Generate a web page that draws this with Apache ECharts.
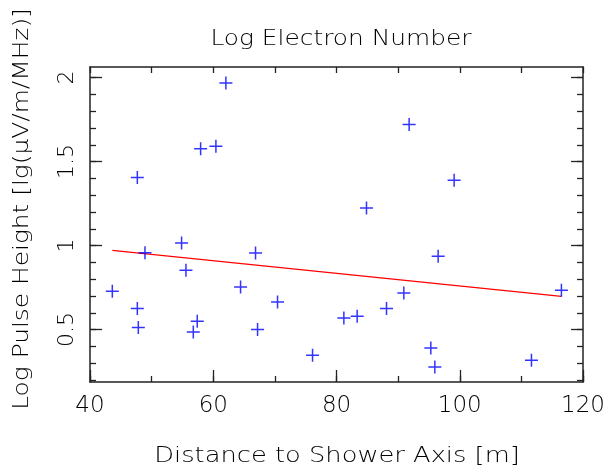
<!DOCTYPE html>
<html><head><meta charset="utf-8">
<script src="https://cdn.jsdelivr.net/npm/echarts@6/dist/echarts.min.js"></script>
<style>html,body{margin:0;padding:0;background:#fff}#c{width:608px;height:471px}</style>
</head><body><div id="c"></div>
<script>
// Data
const distance = [62.05, 57.95, 60.43, 47.68, 54.86, 48.92, 66.86, 55.57, 43.62, 64.43, 70.43, 47.68, 47.84, 57.4, 56.76, 67.19, 76.11,
                  91.78, 99.08, 84.86, 96.49, 90.92, 116.49, 88.11, 81.19, 83.35, 95.3, 95.95, 111.63];
const pulseHeight = [1.968, 1.577, 1.591, 1.405, 1.015, 0.958, 0.956, 0.853, 0.728, 0.754, 0.664, 0.625, 0.512, 0.549, 0.486, 0.5, 0.347,
                     1.72, 1.389, 1.224, 0.936, 0.718, 0.734, 0.625, 0.569, 0.579, 0.39, 0.277, 0.317];
const fitX = [43.62, 116.49];
const fitY = [0.972, 0.698];
const yMajorTicks = [0.5, 1, 1.5, 2];
const yMinorTicks = [0.2, 0.3, 0.4, 0.5, 0.6, 0.7, 0.8, 0.9, 1.0, 1.1, 1.2, 1.3, 1.4, 1.5, 1.6, 1.7, 1.8, 1.9, 2.0];
const xMajorTicks = [40, 60, 80, 100, 120];
const xMinorTicks = [40, 50, 60, 70, 80, 90, 100, 110, 120];

const FONT = 'DejaVu Sans';
const TXT = '#000';
const AX = '#222';
const yMin = 0.188, yMax = 2.063;

const pts = distance.map((d, i) => [d, pulseHeight[i]]);
const fit = fitX.map((d, i) => [d, fitY[i]]);

const lineStyle = { color: AX, width: 1.5 };
function yAx(pos, ticks, len, labels, lineShow) {
  return {
    type: 'value', position: pos, min: yMin, max: yMax,
    axisLine: { show: lineShow, lineStyle },
    axisTick: { show: true, inside: true, length: len, customValues: ticks, lineStyle: { color: AX, width: 1.3 } },
    axisLabel: labels ? { show: true, customValues: yMajorTicks, rotate: 90, margin: 12, color: TXT, fontSize: 22, fontFamily: FONT, fontWeight: 200,
      formatter: v => String(Math.round(v * 10) / 10) } : { show: false },
    splitLine: { show: false }
  };
}
function xAx(pos, ticks, len, labels, lineShow) {
  return {
    type: 'value', position: pos, min: 40, max: 120,
    axisLine: { show: lineShow, lineStyle, onZero: false },
    axisTick: { show: true, inside: true, length: len, customValues: ticks, lineStyle: { color: AX, width: 1.3 } },
    axisLabel: labels ? { show: true, customValues: xMajorTicks, margin: 13, color: TXT, fontSize: 23, fontFamily: FONT, fontWeight: 200 } : { show: false },
    splitLine: { show: false }
  };
}

const chart = echarts.init(document.getElementById('c'), null, { renderer: 'canvas' });
chart.setOption({
  animation: false,
  backgroundColor: '#fff',
  grid: { left: 90, right: 24, top: 67, bottom: 89, containLabel: false },
  xAxis: [
    xAx('bottom', xMajorTicks, 12, true, true),
    xAx('bottom', xMinorTicks, 6, false, false),
    xAx('top', xMinorTicks, 6, false, true)
  ],
  yAxis: [
    yAx('left', yMajorTicks, 12, true, true),
    yAx('left', yMinorTicks, 6, false, false),
    yAx('right', yMajorTicks, 12, false, true),
    yAx('right', yMinorTicks, 6, false, false)
  ],
  graphic: [
    { type: 'text', x: 341, y: 39, scaleX: 1.13, style: { text: 'Log Electron Number', align: 'center', verticalAlign: 'middle', fill: TXT, font: '200 22px "DejaVu Sans"' } },
    { type: 'text', x: 337, y: 456, scaleX: 1.17, style: { text: 'Distance to Shower Axis [m]', align: 'center', verticalAlign: 'middle', fill: TXT, font: '200 22px "DejaVu Sans"' } },
    { type: 'text', x: 22, y: 209, rotation: Math.PI / 2, scaleX: 1.13, style: { text: 'Log Pulse Height [lg(μV/m/MHz)]', align: 'center', verticalAlign: 'middle', fill: TXT, font: '200 22px "DejaVu Sans"' } }
  ],
  series: [
    {
      type: 'scatter', xAxisIndex: 0, yAxisIndex: 0, data: pts,
      symbol: 'path://M11.5,0 H14.5 V11.5 H26 V14.5 H14.5 V26 H11.5 V14.5 H0 V11.5 H11.5 Z',
      symbolSize: 13, itemStyle: { color: '#0000ff' }, z: 3
    },
    {
      type: 'line', xAxisIndex: 0, yAxisIndex: 0, data: fit, symbol: 'none',
      lineStyle: { color: '#ff0000', width: 1.3 }, z: 2
    }
  ]
});
</script></body></html>
